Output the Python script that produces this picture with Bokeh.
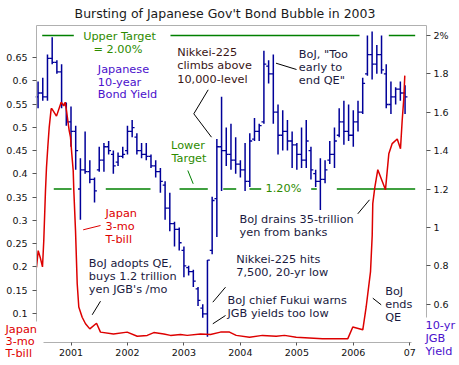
from bokeh.plotting import figure
from bokeh.models import Range1d, LinearAxis, FixedTicker, Label, ColumnDataSource
from bokeh.embed import file_html
from bokeh.resources import INLINE

# ---------------- data ----------------
months = ["2000-06", "2000-07", "2000-08", "2000-09", "2000-10", "2000-11", "2000-12",
          "2001-01", "2001-02", "2001-03", "2001-04", "2001-05", "2001-06", "2001-07", "2001-08",
          "2001-09", "2001-10", "2001-11", "2001-12",
          "2002-01", "2002-02", "2002-03", "2002-04", "2002-05", "2002-06", "2002-07", "2002-08",
          "2002-09", "2002-10", "2002-11", "2002-12",
          "2003-01", "2003-02", "2003-03", "2003-04", "2003-05", "2003-06", "2003-07", "2003-08",
          "2003-09", "2003-10", "2003-11", "2003-12",
          "2004-01", "2004-02", "2004-03", "2004-04", "2004-05", "2004-06", "2004-07", "2004-08",
          "2004-09", "2004-10", "2004-11", "2004-12",
          "2005-01", "2005-02", "2005-03", "2005-04", "2005-05", "2005-06", "2005-07", "2005-08",
          "2005-09", "2005-10", "2005-11", "2005-12",
          "2006-01", "2006-02", "2006-03", "2006-04", "2006-05", "2006-06", "2006-07", "2006-08",
          "2006-09", "2006-10", "2006-11", "2006-12"]

jgb_high = [1.76, 1.78, 1.90, 1.99, 1.87, 1.85, 1.65,
            1.63, 1.53, 1.36, 1.50, 1.35, 1.26, 1.42, 1.44, 1.45, 1.40, 1.39, 1.42,
            1.53, 1.56, 1.49, 1.44, 1.44, 1.38, 1.35, 1.31, 1.24, 1.18, 1.03, 1.00,
            0.90, 0.80, 0.78, 0.69, 0.60, 0.83, 1.16, 1.46, 1.68, 1.52, 1.54, 1.47,
            1.35, 1.44, 1.49, 1.57, 1.54, 1.92, 1.87, 1.90, 1.64, 1.61, 1.56, 1.50,
            1.44, 1.52, 1.56, 1.42, 1.30, 1.36, 1.35, 1.45, 1.52, 1.62, 1.66, 1.64,
            1.61, 1.66, 1.78, 2.00, 2.02, 1.95, 2.00, 1.85, 1.76, 1.73, 1.76, 1.74]
jgb_low = [1.62, 1.66, 1.66, 1.85, 1.80, 1.62, 1.53,
           1.42, 1.30, 1.04, 1.28, 1.23, 1.13, 1.29, 1.29, 1.38, 1.28, 1.32, 1.36,
           1.38, 1.47, 1.38, 1.36, 1.35, 1.31, 1.26, 1.18, 1.04, 0.98, 0.90, 0.88,
           0.74, 0.75, 0.69, 0.59, 0.53, 0.43, 0.86, 0.95, 1.19, 1.32, 1.30, 1.28,
           1.26, 1.19, 1.21, 1.45, 1.45, 1.54, 1.75, 1.54, 1.38, 1.40, 1.40, 1.31,
           1.30, 1.31, 1.31, 1.25, 1.21, 1.09, 1.23, 1.33, 1.31, 1.47, 1.43, 1.45,
           1.42, 1.50, 1.59, 1.79, 1.77, 1.80, 1.80, 1.62, 1.59, 1.64, 1.66, 1.59]
jgb_close = [1.70, 1.68, 1.88, 1.86, 1.81, 1.64, 1.55,
             1.50, 1.40, 1.30, 1.29, 1.25, 1.19, 1.35, 1.42, 1.40, 1.32, 1.37, 1.38,
             1.50, 1.52, 1.40, 1.38, 1.37, 1.32, 1.29, 1.24, 1.10, 1.02, 0.99, 0.92,
             0.80, 0.77, 0.72, 0.62, 0.55, 0.83, 1.14, 1.42, 1.40, 1.38, 1.35, 1.33,
             1.30, 1.24, 1.45, 1.50, 1.53, 1.85, 1.80, 1.60, 1.48, 1.50, 1.45, 1.43,
             1.38, 1.35, 1.45, 1.30, 1.24, 1.25, 1.30, 1.38, 1.45, 1.55, 1.50, 1.48,
             1.55, 1.60, 1.75, 1.90, 1.85, 1.90, 1.82, 1.64, 1.68, 1.72, 1.70, 1.68]
jgb_open = [1.68, 1.70, 1.68, 1.88, 1.86, 1.81, 1.64,
            1.55, 1.50, 1.20, 1.30, 1.29, 1.25, 1.30, 1.35, 1.42, 1.38, 1.34, 1.37,
            1.40, 1.50, 1.47, 1.40, 1.38, 1.37, 1.32, 1.29, 1.22, 1.10, 1.02, 0.99,
            0.88, 0.79, 0.77, 0.68, 0.58, 0.55, 0.88, 1.15, 1.42, 1.40, 1.38, 1.35,
            1.33, 1.30, 1.24, 1.46, 1.50, 1.55, 1.84, 1.80, 1.60, 1.48, 1.50, 1.45,
            1.43, 1.38, 1.35, 1.40, 1.28, 1.24, 1.25, 1.35, 1.38, 1.48, 1.55, 1.50,
            1.48, 1.55, 1.60, 1.80, 1.90, 1.85, 1.90, 1.80, 1.64, 1.68, 1.72, 1.70]

tbill_dates = [2000.389, 2000.419, 2000.460, 2000.495, 2000.518, 2000.548, 2000.566,
               2000.589, 2000.614, 2000.649, 2000.660, 2000.743, 2000.826, 2000.849,
               2000.872, 2000.897, 2000.920, 2000.943, 2000.968, 2000.991, 2001.014,
               2001.039, 2001.050, 2001.080, 2001.110, 2001.138, 2001.198, 2001.257,
               2001.333, 2001.452, 2001.522, 2001.753, 2001.995, 2002.173, 2002.350,
               2002.467, 2002.644, 2002.762, 2002.939, 2003.058, 2003.294, 2003.471,
               2003.648, 2003.807, 2003.926, 2004.162, 2004.392, 2004.634, 2004.781,
               2004.989, 2005.454, 2005.903, 2005.991, 2006.168, 2006.228, 2006.305,
               2006.335, 2006.345, 2006.381, 2006.434, 2006.570, 2006.629, 2006.689,
               2006.778, 2006.836, 2006.866, 2006.894, 2006.912]
tbill_values = [0.199, 0.235, 0.218, 0.200, 0.257, 0.364, 0.414,
                0.457, 0.500, 0.540, 0.540, 0.524, 0.554, 0.550,
                0.546, 0.554, 0.536, 0.515, 0.493, 0.479, 0.443,
                0.407, 0.364, 0.278, 0.164, 0.114, 0.092, 0.078,
                0.067, 0.079, 0.060, 0.056, 0.060, 0.051, 0.053,
                0.059, 0.056, 0.053, 0.055, 0.053, 0.056, 0.055,
                0.060, 0.060, 0.053, 0.049, 0.053, 0.051, 0.053,
                0.049, 0.046, 0.046, 0.071, 0.065, 0.114, 0.190,
                0.268, 0.336, 0.371, 0.409, 0.366, 0.443, 0.465,
                0.475, 0.454, 0.515, 0.561, 0.611]

upper_target = 2.0
lower_target = 1.2
upper_target_spans = [(2000.490, 2001.050), (2002.762, 2006.110), (2006.629, 2007.096)]
lower_target_spans = [(2000.695, 2001.009), (2001.616, 2002.408), (2002.922, 2003.423),
                      (2003.696, 2003.926), (2004.162, 2004.369), (2005.254, 2005.353),
                      (2005.708, 2007.096)]

left_ticks = [0.1, 0.15, 0.2, 0.25, 0.3, 0.35, 0.4, 0.45, 0.5, 0.55, 0.6, 0.65]
left_tick_labels = ["0.1", "0.15", "0.2", "0.25", "0.3", "0.35", "0.4", "0.45", "0.5", "0.55", "0.6", "0.65"]
right_ticks = [0.6, 0.8, 1.0, 1.2, 1.4, 1.6, 1.8, 2.0]
right_tick_labels = ["0.6", "0.8", "1", "1.2", "1.4", "1.6", "1.8", "2%"]
year_ticks = [2001, 2002, 2003, 2004, 2005, 2006, 2007]
year_tick_labels = ["2001", "2002", "2003", "2004", "2005", "2006", "07"]

# ---------------- layout helpers (page pixel -> data) ----------------
def X(px):
    return 2001 + (px - 70.5) / 56.46

def Y(py):
    return 0.1 + (313 - py) / 465.5

def R(py):
    return 1.2 + (188.5 - py) / 192.0

W, H = 459, 365
FONT = "DejaVu Sans"
BLUE = "#000099"
RED = "#dd0000"
GREEN = "#008000"
GTEXT = "#2e8b00"
PURPLE = "#4a10cc"
DARK = "#1a1a40"
AXIS = "#b0b0b0"

# the frame covers the whole canvas; axes sit at fixed data locations
p = figure(width=W, height=H, output_backend="svg", toolbar_location=None,
           x_range=Range1d(X(0), X(W)), y_range=Range1d(Y(H), Y(0)),
           min_border=0, min_border_left=0, min_border_right=0,
           min_border_top=0, min_border_bottom=0,
           background_fill_color="white", border_fill_color="white")
p.extra_y_ranges = {"jgb": Range1d(R(H), R(0))}
p.outline_line_color = None
p.xgrid.visible = False
p.ygrid.visible = False

# x axis
xa = p.xaxis[0]
xa.ticker = FixedTicker(ticks=year_ticks)
xa.major_label_overrides = {t: l for t, l in zip(year_ticks, year_tick_labels)}
xa.bounds = (X(43), X(411))
xa.fixed_location = Y(342)
# y axis (left)
ya = p.yaxis[0]
ya.ticker = FixedTicker(ticks=left_ticks)
ya.major_label_overrides = {t: l for t, l in zip(left_ticks, left_tick_labels)}
ya.bounds = (Y(321), Y(25))
ya.fixed_location = X(36)
# right axis
ra = LinearAxis(y_range_name="jgb", ticker=FixedTicker(ticks=right_ticks),
                major_label_overrides={t: l for t, l in zip(right_ticks, right_tick_labels)})
ra.bounds = (R(317), R(25))
ra.fixed_location = X(426)
p.add_layout(ra, "right")
# top frame line
ta = LinearAxis(ticker=FixedTicker(ticks=[]), major_tick_out=0, major_tick_in=0,
                minor_tick_out=0, minor_tick_in=0)
ta.axis_line_color = AXIS
ta.bounds = (X(36), X(426))
ta.fixed_location = Y(25)
p.add_layout(ta, "above")

for ax in (xa, ya, ra):
    ax.axis_line_color = AXIS
    ax.major_tick_line_color = "#555555"
    ax.minor_tick_line_color = None
    ax.major_tick_in = 0
    ax.major_label_text_font = FONT
    ax.major_label_text_font_size = "9.5px"
    ax.major_label_text_color = "#111111"
xa.major_tick_out = 3
xa.major_label_standoff = 3
ya.major_tick_out = 4
ya.major_label_standoff = 5
ra.major_tick_out = 4
ra.major_label_standoff = 3

# ---------------- marks ----------------
xs = [int(m[:4]) + (int(m[5:]) - 1) / 12 for m in months]
TICK = 2.4 / 56.46
src = ColumnDataSource(dict(x=xs, xl=[v - TICK for v in xs], xr=[v + TICK for v in xs],
                            high=jgb_high, low=jgb_low, open=jgb_open, close=jgb_close))

# target lines
p.segment(x0=[a for a, b in upper_target_spans], x1=[b for a, b in upper_target_spans],
          y0=[upper_target] * len(upper_target_spans), y1=[upper_target] * len(upper_target_spans),
          y_range_name="jgb", line_color=GREEN, line_width=1.5)
p.segment(x0=[a for a, b in lower_target_spans], x1=[b for a, b in lower_target_spans],
          y0=[lower_target] * len(lower_target_spans), y1=[lower_target] * len(lower_target_spans),
          y_range_name="jgb", line_color=GREEN, line_width=1.5)

p.segment(x0="x", y0="low", x1="x", y1="high", source=src, y_range_name="jgb",
          line_color=BLUE, line_width=1.5)
p.segment(x0="xl", y0="open", x1="x", y1="open", source=src, y_range_name="jgb",
          line_color=BLUE, line_width=1.3)
p.segment(x0="x", y0="close", x1="xr", y1="close", source=src, y_range_name="jgb",
          line_color=BLUE, line_width=1.3)

p.line(tbill_dates, tbill_values, line_color=RED, line_width=1.5)

# ---------------- pointers ----------------
pointers = [
    ([207.7, 193.3, 211.0], [89.3, 113.3, 136.7], "black"),
    ([275.5, 296.0], [62.7, 69.0], "black"),
    ([187.3, 192.7], [170.0, 183.3], GREEN),
    ([82.7, 100.0], [229.3, 225.0], RED),
    ([357.3, 369.0], [213.3, 199.3], "black"),
    ([91.7, 100.0], [314.3, 300.7], "black"),
    ([212.3, 225.0], [301.7, 286.7], "black"),
    ([212.3, 225.0], [323.3, 315.0], "black"),
    ([372.3, 380.7], [297.7, 304.3], "black"),
]
for pxs, pys, col in pointers:
    p.line([X(v) for v in pxs], [Y(v) for v in pys], line_color=col, line_width=1)

# ---------------- texts ----------------
def txt(px, py, s, color, align="left", size="11.3px"):
    p.add_layout(Label(x=X(px), y=Y(py), text=s, text_color=color, text_align=align,
                       text_baseline="middle", text_font=FONT, text_font_size=size))

txt(224.5, 12.5, "Bursting of Japanese Gov't Bond Bubble in 2003", "#1a1a1a", "center", "12.5px")
txt(119, 35.7, "Upper Target", GTEXT, "center")
txt(117.5, 49.3, "= 2.00%", GTEXT, "center")
for i, s in enumerate(["Japanese", "10-year", "Bond Yield"]):
    txt(97.3, 69.3 + 12.5 * i, s, PURPLE)
for i, s in enumerate(["Nikkei-225", "climbs above", "10,000-level"]):
    txt(176.7, 51.7 + 13.5 * i, s, "#3a1515")
for i, s in enumerate(['BoJ, "Too', "early to", 'end QE"']):
    txt(298.3, 54.3 + 12.9 * i, s, DARK)
txt(187.5, 145.0, "Lower", GTEXT, "center")
txt(188.5, 158.3, "Target", GTEXT, "center")
txt(283, 188, "1.20%", GTEXT, "center")
for i, s in enumerate(["Japan", "3-mo", "T-bill"]):
    txt(105, 213.3 + 12.9 * i, s, RED)
for i, s in enumerate(["BoJ drains 35-trillion", "yen from banks"]):
    txt(239, 219.3 + 13 * i, s, DARK)
for i, s in enumerate(["BoJ adopts QE,", "buys 1.2 trillion", "yen JGB's /mo"]):
    txt(88.3, 263.3 + 12.6 * i, s, DARK)
for i, s in enumerate(["Nikkei-225 hits", "7,500, 20-yr low"]):
    txt(235.7, 259 + 12.7 * i, s, DARK)
for i, s in enumerate(["BoJ chief Fukui warns", "JGB yields too low"]):
    txt(227, 300 + 13.3 * i, s, DARK)
for i, s in enumerate(["BoJ", "ends", "QE"]):
    txt(384.7, 291 + 12.9 * i, s, DARK)
for i, s in enumerate(["Japan", "3-mo", "T-bill"]):
    txt(5, 329.3 + 12 * i, s, RED)
for i, s in enumerate(["10-yr", "JGB", "Yield"]):
    txt(425, 325 + 12.8 * i, s, PURPLE)

open("out.html", "w").write(file_html(p, INLINE))
